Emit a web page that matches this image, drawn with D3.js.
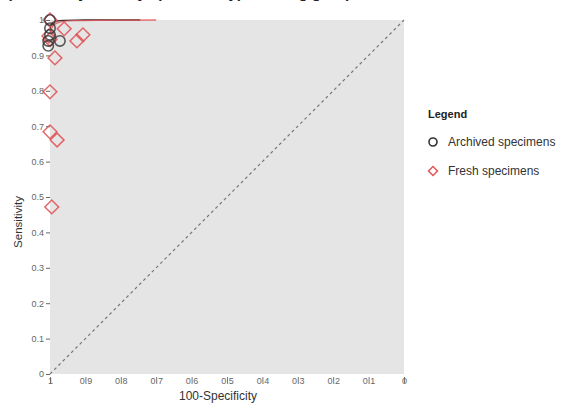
<!DOCTYPE html>
<html>
<head>
<meta charset="utf-8">
<script src="https://cdn.jsdelivr.net/npm/d3@7"></script>
<style>
  body { margin: 0; background: #fff; }
  svg { font-family: "Liberation Sans", Arial, sans-serif; }
</style>
</head>
<body>
<div id="canvas"></div>
<script>
// ----- data -----
const ticks = [0, 0.1, 0.2, 0.3, 0.4, 0.5, 0.6, 0.7, 0.8, 0.9, 1];

// archived specimens: [specificity, sensitivity]
const archivedSpec = [1.0, 1.0, 1.0, 1.005, 0.972, 1.005];
const archivedSens = [1.0, 0.977, 0.958, 0.941, 0.941, 0.927];

// fresh specimens
const freshSpec = [1.0, 0.96, 0.907, 0.924, 1.003, 1.0, 0.986, 1.0, 1.0, 0.98, 0.995];
const freshSens = [1.0, 0.975, 0.958, 0.941, 0.955, 0.945, 0.893, 0.797, 0.684, 0.661, 0.472];

// summary curves
const archivedCurveSpec = [1.0, 0.995, 0.985, 0.96, 0.9, 0.82, 0.745];
const archivedCurveSens = [0.975, 0.99, 0.996, 0.999, 1.0, 1.0, 1.0];
const freshCurveSpec = [1.0, 0.99, 0.97, 0.93, 0.85, 0.7];
const freshCurveSens = [0.965, 0.985, 0.995, 0.998, 0.999, 1.0];

const legendItems = ['Archived specimens', 'Fresh specimens'];
const blackCol = '#333333';
const redCol = '#e05559';

// ----- layout -----
const W = 568, H = 403;
const svg = d3.select('#canvas').append('svg')
  .attr('width', W).attr('height', H);

const x = d3.scaleLinear().domain([1, 0]).range([50, 404]);
const y = d3.scaleLinear().domain([0, 1]).range([374, 20]);

// cropped title at the very top (only descenders show)
svg.append('text')
  .attr('x', 0).attr('y', -2)
  .style('font-size', '15px').style('font-weight', 'bold').attr('fill', '#222')
  .text('b) Summary ROC by specimen type among groups');

// plot background
svg.append('rect')
  .attr('x', x(1)).attr('y', y(1))
  .attr('width', x(0) - x(1)).attr('height', y(0) - y(1))
  .attr('fill', '#e5e5e5');

// diagonal
svg.append('line')
  .attr('x1', x(1)).attr('y1', y(0)).attr('x2', x(0)).attr('y2', y(1))
  .attr('stroke', '#777').attr('stroke-width', 1.2).attr('stroke-dasharray', '3,3');

// y axis
const yAxis = svg.append('g').attr('transform', `translate(${x(1)},0)`)
  .call(d3.axisLeft(y).tickValues(ticks).tickFormat(d3.format('')).tickSize(4).tickPadding(2));
yAxis.select('.domain').remove();
yAxis.selectAll('line').attr('stroke', '#666');
yAxis.selectAll('text').attr('fill', '#666').style('font-size', '9px');

// x axis
const xAxis = svg.append('g').attr('transform', `translate(0,${y(0)})`)
  .call(d3.axisBottom(x).tickValues(ticks).tickFormat(d3.format('')).tickSize(6).tickPadding(-2));
xAxis.select('.domain').remove();
xAxis.selectAll('line').attr('stroke', '#777').attr('transform', 'translate(0,3)');
xAxis.selectAll('text').attr('fill', '#666').style('font-size', '9px');

// axis titles
svg.append('text')
  .attr('transform', `translate(22,${(y(0) + y(1)) / 2 + 25}) rotate(-90)`)
  .attr('text-anchor', 'middle').attr('fill', '#333').style('font-size', '11.5px')
  .text('Sensitivity');
svg.append('text')
  .attr('x', 218).attr('y', 400)
  .attr('text-anchor', 'middle').attr('fill', '#333').style('font-size', '12px')
  .text('100-Specificity');

// curves
const line = d3.line().curve(d3.curveMonotoneX);
svg.append('path')
  .attr('d', line(archivedCurveSpec.map((s, i) => [x(s), y(archivedCurveSens[i])])))
  .attr('fill', 'none').attr('stroke', '#3a2a2a').attr('stroke-width', 1.3);
svg.append('path')
  .attr('d', line(freshCurveSpec.map((s, i) => [x(s), y(freshCurveSens[i])])))
  .attr('fill', 'none').attr('stroke', redCol).attr('stroke-width', 1.3).attr('opacity', 0.85);

// fresh diamonds
const diamond = d3.symbol().type(d3.symbolSquare).size(95);
svg.append('g').selectAll('path')
  .data(freshSpec.map((s, i) => [s, freshSens[i]]))
  .join('path')
  .attr('d', diamond)
  .attr('transform', d => `translate(${x(d[0])},${y(d[1])}) rotate(45)`)
  .attr('fill', 'none').attr('stroke', redCol).attr('stroke-width', 1.5).attr('opacity', 0.9);

// archived circles
svg.append('g').selectAll('circle')
  .data(archivedSpec.map((s, i) => [s, archivedSens[i]]))
  .join('circle')
  .attr('cx', d => x(d[0])).attr('cy', d => y(d[1])).attr('r', 5.2)
  .attr('fill', 'none').attr('stroke', blackCol).attr('stroke-width', 1.6).attr('opacity', 0.8);

// legend
const lg = svg.append('g').attr('transform', 'translate(428,0)');
lg.append('text').attr('x', 0).attr('y', 118)
  .style('font-size', '11px').style('font-weight', 'bold').attr('fill', '#222')
  .text('Legend');
lg.selectAll('.item')
  .data(legendItems)
  .join('g').attr('class', 'item')
  .attr('transform', (d, i) => `translate(0,${146 + i * 29})`)
  .each(function (d, i) {
    const g = d3.select(this);
    if (i === 0) {
      g.append('circle').attr('cx', 5).attr('cy', -4).attr('r', 4)
        .attr('fill', 'none').attr('stroke', blackCol).attr('stroke-width', 1.6);
    } else {
      g.append('path').attr('d', d3.symbol().type(d3.symbolSquare).size(40))
        .attr('transform', 'translate(5,-4) rotate(45)')
        .attr('fill', 'none').attr('stroke', redCol).attr('stroke-width', 1.5);
    }
    g.append('text').attr('x', 20).attr('y', 0)
      .style('font-size', '12px').attr('fill', '#333').text(d);
  });
</script>
</body>
</html>
